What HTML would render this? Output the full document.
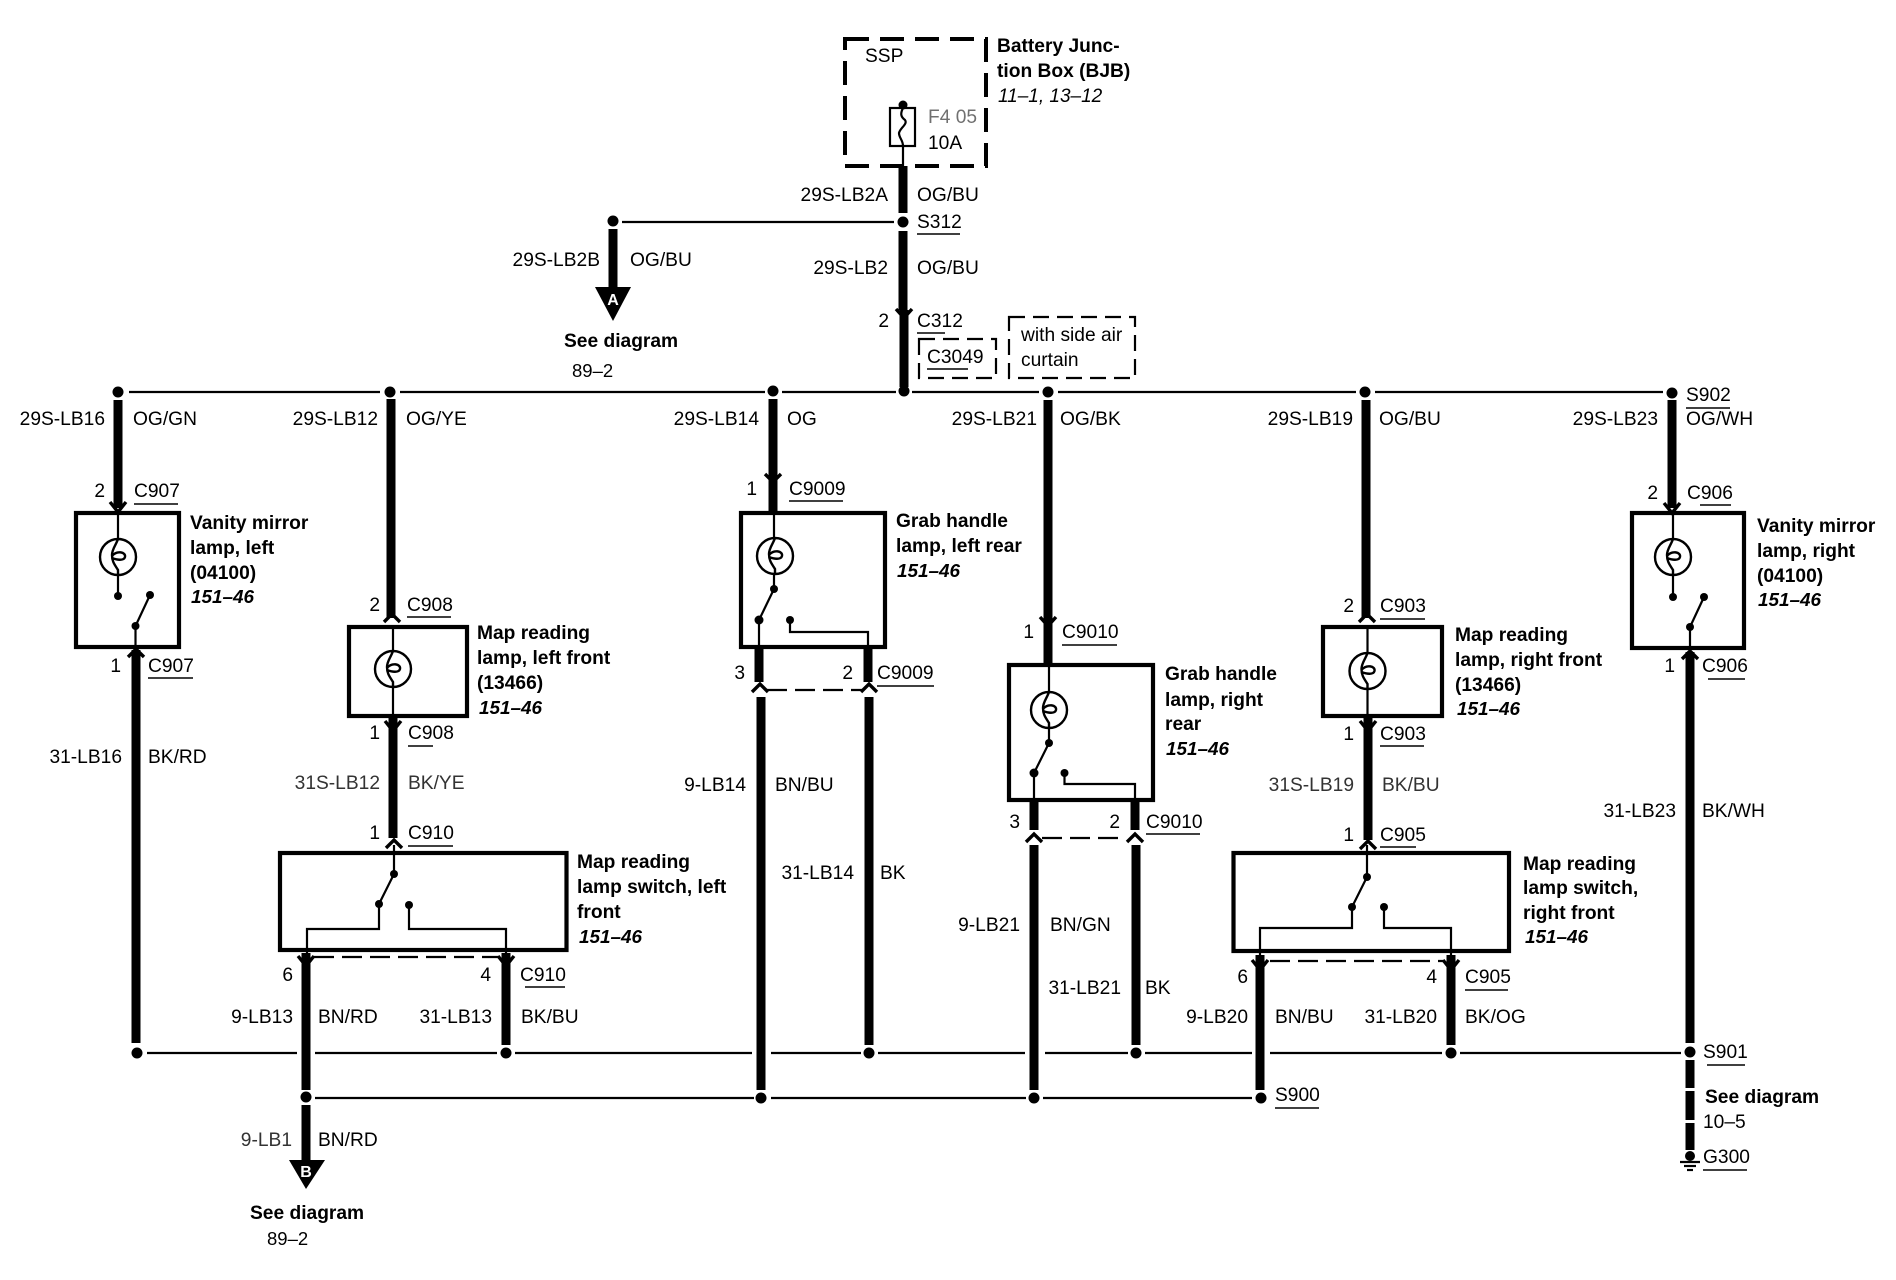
<!DOCTYPE html>
<html><head><meta charset="utf-8"><title>Wiring diagram</title>
<style>
html,body{margin:0;padding:0;background:#fff}
svg{display:block}
text{font-family:"Liberation Sans",sans-serif;font-size:19.2px;fill:#000}
.b{font-weight:bold;font-size:19.2px}
.i{font-weight:bold;font-style:italic;font-size:18.9px}
.e{text-anchor:end}
.g{fill:#333}
.w{stroke:#000;stroke-width:9;fill:none}
.l{stroke:#000;stroke-width:2.2;fill:none}
.h{stroke:#000;stroke-width:2.2;fill:none}
.u{stroke:#000;stroke-width:1.5;fill:none}
.box{stroke:#000;stroke-width:4.2;fill:none}
.d{stroke:#000;stroke-width:2.2;fill:none;stroke-dasharray:20 8}
.c{stroke:#000;stroke-width:3.4;fill:none}
</style></head><body>
<svg width="1896" height="1280" viewBox="0 0 1896 1280" xmlns="http://www.w3.org/2000/svg">
<defs>
<g id="lamp"><circle r="18" fill="none" stroke="#000" stroke-width="2.4"/><path d="M0,-18 C-2,-12 -6,-8 -6,-2 C-6,5 -3,8 0,13 L0,18 M-6,-1 C-1,-7 8,-5 7,0 C6,4 -1,3 -6,1" fill="none" stroke="#000" stroke-width="2.4"/></g>
</defs>

<!-- Top dashed fuse box -->
<rect x="845" y="39" width="141" height="127" fill="none" stroke="#000" stroke-width="4" stroke-dasharray="24 11"/>
<rect x="890" y="108" width="25" height="38" fill="none" stroke="#000" stroke-width="2.2"/>
<circle cx="903" cy="105" r="4.5"/>
<path class="l" d="M903,108 C900,114 901,117 905,120 C908,124 900,128 899,133 C899,138 903,140 903,146 L903,168"/>
<text x="865" y="62">SSP</text>
<text x="928" y="123" class="g" fill-opacity=".7">F4 05</text>
<text x="928" y="149">10A</text>
<text x="997" y="52" class="b">Battery Junc-</text>
<text x="997" y="77" class="b">tion Box (BJB)</text>
<text x="998" y="102" style="font-style:italic;font-size:19px">11–1, 13–12</text>

<path class="w" d="M903,166V213M903,231V310M904,310V387"/>
<circle cx="903" cy="222" r="5.5"/>
<path class="h" d="M622,222H894"/>
<path class="c" d="M896,309L904,318L912,309"/>
<circle cx="904" cy="391" r="5.5"/>
<text x="888" y="201" class="e">29S-LB2A</text><text x="917" y="201">OG/BU</text>
<text x="917" y="228">S312</text><path class="u" d="M917,234H960"/>
<text x="888" y="274" class="e">29S-LB2</text><text x="917" y="274">OG/BU</text>
<text x="889" y="327" class="e">2</text><text x="917" y="327">C312</text><path class="u" d="M917,333H945"/>
<rect x="919" y="339" width="77" height="39" fill="none" stroke="#000" stroke-width="2.2" stroke-dasharray="16 8"/>
<text x="927" y="363">C3049</text><path class="u" d="M927,369H968"/>
<rect x="1009" y="317" width="126" height="61" fill="none" stroke="#000" stroke-width="2.2" stroke-dasharray="16 8"/>
<text x="1021" y="341">with side air</text><text x="1021" y="366">curtain</text>

<!-- A branch -->
<circle cx="613" cy="221" r="5.5"/>
<path class="w" d="M613,229V290"/>
<polygon points="595,287 631,287 613,321"/>
<text x="613" y="305" class="b" style="fill:#fff;text-anchor:middle;font-size:16px">A</text>
<text x="600" y="266" class="e">29S-LB2B</text><text x="630" y="266">OG/BU</text>
<text x="564" y="347" class="b">See diagram</text>
<text x="572" y="377" style="font-size:18.5px">89–2</text>

<!-- Main bus -->
<path class="h" d="M129,392H380M400,392H765M782,392H896M912,392H1039M1058,392H1356M1375,392H1663"/>
<circle cx="118" cy="392" r="5.5"/><circle cx="390" cy="392" r="5.5"/><circle cx="773" cy="391" r="5.5"/><circle cx="1048" cy="392" r="5.5"/><circle cx="1365" cy="392" r="5.5"/><circle cx="1672" cy="393" r="5.5"/>

<!-- LB16 -->
<path class="w" d="M118,400V508"/><path class="c" d="M110,502L118,512L126,502"/>
<rect class="box" x="76" y="513" width="103" height="134"/>
<path class="l" d="M118,513V539M118,575V596"/><use href="#lamp" x="118" y="557"/><circle cx="118" cy="596" r="4"/>
<path class="l" d="M135.500,647V626L150,595" /><circle cx="135.500" cy="626" r="4"/><circle cx="150" cy="595" r="4"/>
<path class="w" d="M136,650V1043"/><path class="c" d="M128,657L136,649L144,657"/>
<circle cx="137" cy="1053" r="5.500"/>
<text x="105" y="425" class="e">29S-LB16</text><text x="133" y="425">OG/GN</text>
<text x="105" y="497" class="e">2</text><text x="134" y="497">C907</text><path class="u" d="M134,504H178"/>
<text x="121" y="672" class="e">1</text><text x="148" y="672">C907</text><path class="u" d="M148,678H193"/>
<text x="122" y="763" class="e">31-LB16</text><text x="148" y="763">BK/RD</text>
<text x="190" y="529" class="b">Vanity mirror</text><text x="190" y="554" class="b">lamp, left</text><text x="190" y="579" class="b">(04100)</text><text x="191" y="603" class="i">151–46</text>

<!-- LB12 -->
<path class="w" d="M391,399V618"/><path class="c" d="M384,622L392,614L400,622"/>
<rect class="box" x="349" y="627" width="118" height="89"/>
<path class="l" d="M393,627V651M393,687V716"/><use href="#lamp" x="393" y="669"/>
<path class="w" d="M393,718V838"/><path class="c" d="M385,721L393,731L401,721"/><path class="c" d="M386,848L394,840L402,848"/>
<text x="378" y="425" class="e">29S-LB12</text><text x="406" y="425">OG/YE</text>
<text x="380" y="611" class="e">2</text><text x="407" y="611">C908</text><path class="u" d="M407,617H451"/>
<text x="380" y="739" class="e">1</text><text x="408" y="739">C908</text><path class="u" d="M408,746H433"/>
<text x="380" y="789" class="e g">31S-LB12</text><text x="408" y="789" class="g">BK/YE</text>
<text x="380" y="839" class="e">1</text><text x="408" y="839">C910</text><path class="u" d="M408,846H453"/>
<text x="477" y="639" class="b">Map reading</text><text x="477" y="664" class="b">lamp, left front</text><text x="477" y="689" class="b">(13466)</text><text x="479" y="714" class="i">151–46</text>

<!-- Switch left -->
<rect class="box" x="280" y="853" width="286.500" height="97"/>
<path class="l" d="M394,845V874L379,904V929H307V955"/><circle cx="394" cy="874" r="4"/><circle cx="379" cy="904" r="4"/>
<path class="l" d="M409,905V929H506V955"/><circle cx="409" cy="905" r="4"/>
<path class="d" d="M314,957H498"/>
<path class="w" d="M306,953V1090M306,1105V1162"/><path class="c" d="M298,956L306,966L314,956"/>
<circle cx="306" cy="1097" r="5.500"/>
<polygon points="289,1160 325,1160 306,1189"/>
<text x="306" y="1177" class="b" style="fill:#fff;text-anchor:middle;font-size:16px">B</text>
<path class="w" d="M506,953V1045"/><path class="c" d="M498,956L506,966L514,956"/>
<circle cx="506" cy="1053" r="5.500"/>
<text x="293" y="981" class="e">6</text><text x="491" y="981" class="e">4</text><text x="520" y="981">C910</text><path class="u" d="M525,987H565"/>
<text x="293" y="1023" class="e">9-LB13</text><text x="318" y="1023">BN/RD</text><text x="492" y="1023" class="e">31-LB13</text><text x="521" y="1023">BK/BU</text>
<text x="292" y="1146" class="e g">9-LB1</text><text x="318" y="1146">BN/RD</text>
<text x="250" y="1219" class="b">See diagram</text><text x="267" y="1245" style="font-size:18.5px">89–2</text>
<text x="577" y="868" class="b">Map reading</text><text x="577" y="893" class="b">lamp switch, left</text><text x="577" y="918" class="b">front</text><text x="579" y="943" class="i">151–46</text>

<!-- Lower buses -->
<path class="h" d="M147,1053H297M315,1053H497M515,1053H752M771,1053H861M878,1053H1025M1045,1053H1128M1145,1053H1252M1270,1053H1442M1460,1053H1681"/>
<path class="h" d="M315,1098H754M771,1098H1026M1043,1098H1252"/>

<!-- LB14 -->
<path class="w" d="M773,399V513"/><path class="c" d="M765,474L773,482L781,474"/>
<rect class="box" x="741" y="513" width="144" height="134"/>
<path class="l" d="M774,513V538M774,574V589L759,620V647"/><use href="#lamp" x="775" y="556"/><circle cx="774" cy="589" r="4"/><circle cx="759" cy="620" r="4.500"/>
<path class="l" d="M790,620V632H868V647"/><circle cx="790" cy="620" r="4"/>
<path class="w" d="M759,647V682M761,697V1090"/><path class="w" d="M868,647V682M869,697V1045"/>
<path class="c" d="M752,692L760,684L768,692"/><path class="c" d="M861,692L869,684L877,692"/>
<path class="d" d="M767,690H862"/>
<circle cx="761" cy="1098" r="5.500"/><circle cx="869" cy="1053" r="5.500"/>
<text x="759" y="425" class="e">29S-LB14</text><text x="787" y="425">OG</text>
<text x="757" y="495" class="e">1</text><text x="789" y="495">C9009</text><path class="u" d="M789,501H843"/>
<text x="745" y="679" class="e">3</text><text x="853" y="679" class="e">2</text><text x="877" y="679">C9009</text><path class="u" d="M877,686H934"/>
<text x="746" y="791" class="e">9-LB14</text><text x="775" y="791">BN/BU</text>
<text x="854" y="879" class="e">31-LB14</text><text x="880" y="879">BK</text>
<text x="896" y="527" class="b">Grab handle</text><text x="896" y="552" class="b">lamp, left rear</text><text x="897" y="577" class="i">151–46</text>

<!-- LB21 -->
<path class="w" d="M1048,400V665"/><path class="c" d="M1040,617L1048,626L1056,617"/>
<rect class="box" x="1009" y="665" width="144" height="135"/>
<path class="l" d="M1049,665V692M1049,728V743L1034,773V800"/><use href="#lamp" x="1049" y="710"/><circle cx="1049" cy="743" r="4"/><circle cx="1034" cy="773" r="4.500"/>
<path class="l" d="M1064.500,773V784H1135V800"/><circle cx="1064.500" cy="773" r="4"/>
<path class="w" d="M1034,800V830M1034,845V1090M1135,800V830M1136,845V1045"/>
<path class="c" d="M1026,842L1034,834L1042,842"/><path class="c" d="M1127,842L1135,834L1143,842"/>
<path class="d" d="M1042,838H1125"/>
<circle cx="1034" cy="1098" r="5.500"/><circle cx="1136" cy="1053" r="5.500"/>
<text x="1037" y="425" class="e">29S-LB21</text><text x="1060" y="425">OG/BK</text>
<text x="1034" y="638" class="e">1</text><text x="1062" y="638">C9010</text><path class="u" d="M1062,645H1117"/>
<text x="1020" y="828" class="e">3</text><text x="1120" y="828" class="e">2</text><text x="1146" y="828">C9010</text><path class="u" d="M1146,834H1200"/>
<text x="1020" y="931" class="e">9-LB21</text><text x="1050" y="931">BN/GN</text>
<text x="1121" y="994" class="e">31-LB21</text><text x="1145" y="994">BK</text>
<text x="1165" y="680" class="b">Grab handle</text><text x="1165" y="706" class="b">lamp, right</text><text x="1165" y="730" class="b">rear</text><text x="1166" y="755" class="i">151–46</text>

<!-- LB19 -->
<path class="w" d="M1366,400V618"/><path class="c" d="M1359,622L1367,614L1375,622"/>
<rect class="box" x="1323" y="627" width="119" height="89"/>
<path class="l" d="M1367.500,627V653M1367.500,689V716"/><use href="#lamp" x="1367.500" y="671"/>
<path class="w" d="M1368,718V840"/><path class="c" d="M1360,721L1368,731L1376,721"/><path class="c" d="M1360,849L1368,841L1376,849"/>
<text x="1353" y="425" class="e">29S-LB19</text><text x="1379" y="425">OG/BU</text>
<text x="1354" y="612" class="e">2</text><text x="1380" y="612">C903</text><path class="u" d="M1380,619H1425"/>
<text x="1354" y="740" class="e">1</text><text x="1380" y="740">C903</text><path class="u" d="M1380,746H1424"/>
<text x="1354" y="791" class="e g">31S-LB19</text><text x="1382" y="791" class="g">BK/BU</text>
<text x="1354" y="841" class="e">1</text><text x="1380" y="841">C905</text><path class="u" d="M1380,847H1416"/>
<text x="1455" y="641" class="b">Map reading</text><text x="1455" y="666" class="b">lamp, right front</text><text x="1455" y="691" class="b">(13466)</text><text x="1457" y="715" class="i">151–46</text>

<!-- Switch right -->
<rect class="box" x="1233.500" y="853" width="275.500" height="98"/>
<path class="l" d="M1367,845V877L1352,907V928H1260V958"/><circle cx="1367" cy="877" r="4"/><circle cx="1352" cy="907" r="4"/>
<path class="l" d="M1384,907V928H1451V958"/><circle cx="1384" cy="907" r="4"/>
<path class="d" d="M1270,961H1443"/>
<path class="w" d="M1260,955V1090M1451,955V1045"/>
<path class="c" d="M1252,960L1260,970L1268,960"/><path class="c" d="M1443,960L1451,970L1459,960"/>
<circle cx="1261" cy="1098" r="5.500"/><circle cx="1451" cy="1053" r="5.500"/>
<text x="1248" y="983" class="e">6</text><text x="1437" y="983" class="e">4</text><text x="1465" y="983">C905</text><path class="u" d="M1465,990H1508"/>
<text x="1248" y="1023" class="e">9-LB20</text><text x="1275" y="1023">BN/BU</text><text x="1437" y="1023" class="e">31-LB20</text><text x="1465" y="1023">BK/OG</text>
<text x="1275" y="1101">S900</text><path class="u" d="M1275,1108H1319"/>
<text x="1523" y="870" class="b">Map reading</text><text x="1523" y="894" class="b">lamp switch,</text><text x="1523" y="919" class="b">right front</text><text x="1525" y="943" class="i">151–46</text>

<!-- LB23 -->
<path class="w" d="M1672,400V508"/><path class="c" d="M1664,503L1672,513L1680,503"/>
<rect class="box" x="1632" y="513" width="112" height="135"/>
<path class="l" d="M1673,513V539M1673,575V597"/><use href="#lamp" x="1673" y="557"/><circle cx="1673" cy="597" r="4"/>
<path class="l" d="M1690,648V627L1704,597"/><circle cx="1690" cy="627" r="4"/><circle cx="1704" cy="597" r="4"/>
<path class="w" d="M1690,652V1043"/><path class="c" d="M1682,659L1690,651L1698,659"/>
<circle cx="1690" cy="1052" r="5.500"/>
<path class="w" d="M1690,1060V1088M1690,1091V1120M1690,1123V1150"/>
<circle cx="1690" cy="1156" r="5"/><path class="l" d="M1680,1162H1700"/><path class="l" d="M1684,1166H1696"/><path class="l" d="M1687,1170H1693"/>
<text x="1686" y="401">S902</text><path class="u" d="M1686,408H1730"/>
<text x="1658" y="425" class="e">29S-LB23</text><text x="1686" y="425">OG/WH</text>
<text x="1658" y="499" class="e">2</text><text x="1687" y="499">C906</text><path class="u" d="M1700,505H1731"/>
<text x="1675" y="672" class="e">1</text><text x="1702" y="672">C906</text><path class="u" d="M1708,679H1745"/>
<text x="1676" y="817" class="e">31-LB23</text><text x="1702" y="817">BK/WH</text>
<text x="1757" y="532" class="b">Vanity mirror</text><text x="1757" y="557" class="b">lamp, right</text><text x="1757" y="582" class="b">(04100)</text><text x="1758" y="606" class="i">151–46</text>
<text x="1703" y="1058">S901</text><path class="u" d="M1707,1065H1745"/>
<text x="1705" y="1103" class="b">See diagram</text><text x="1703" y="1128">10–5</text>
<text x="1703" y="1163">G300</text><path class="u" d="M1703,1170H1747"/>
</svg>
</body></html>
